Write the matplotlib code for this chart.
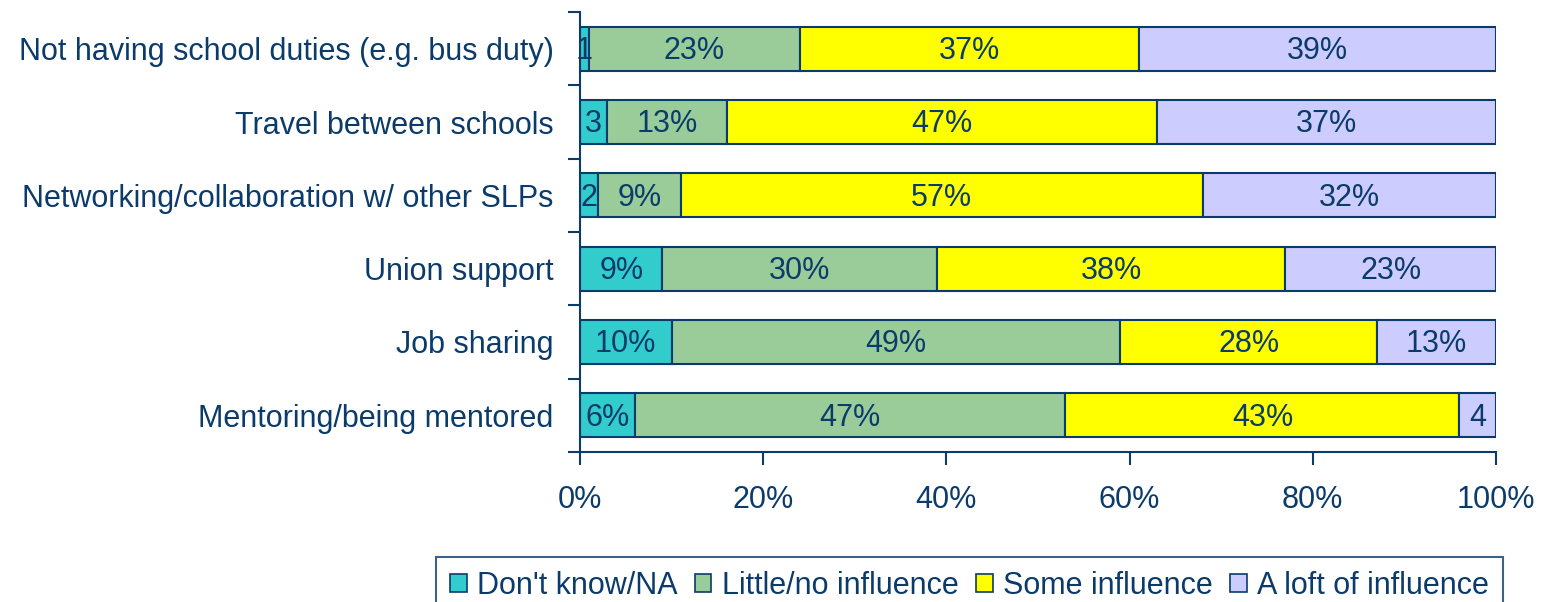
import matplotlib
matplotlib.use("Agg")
import matplotlib.pyplot as plt
from matplotlib.patches import Patch
import numpy as np

plt.rcParams['font.family'] = ['Liberation Sans', 'DejaVu Sans']

categories = [
    "Not having school duties (e.g. bus duty)",
    "Travel between schools",
    "Networking/collaboration w/ other SLPs",
    "Union support",
    "Job sharing",
    "Mentoring/being mentored",
]
series_names = ["Don't know/NA", "Little/no influence", "Some influence", "A loft of influence"]
dont_know = [1, 3, 2, 9, 10, 6]
little = [23, 13, 9, 30, 49, 47]
some = [37, 47, 57, 38, 28, 43]
a_lot = [39, 37, 32, 23, 13, 4]
xtick_labels = ["0%", "20%", "40%", "60%", "80%", "100%"]

colors = ["#33CCCC", "#99CC99", "#FFFF00", "#CCCCFF"]
navy = "#0B3B6B"
fs = 22

fig = plt.figure(figsize=(15.51, 6.02), dpi=100)
ax = fig.add_axes([580/1551, 1-452/602, 916/1551, 440/602])

series = [dont_know, little, some, a_lot]
n = len(categories)
ypos = np.arange(n)[::-1] + 0.5
left = np.zeros(n)
for vals, col, name in zip(series, colors, series_names):
    vals = np.array(vals, dtype=float)
    ax.barh(ypos, vals, left=left, height=0.6, color=col, edgecolor=navy,
            linewidth=1.5, label=name)
    for y, l, v in zip(ypos, left, vals):
        txt = f"{int(v)}%" if v >= 5 else f"{int(v)}"
        ax.text(l + v/2, y - 0.03, txt, ha='center', va='center', fontsize=fs,
                color=navy)
    left = left + vals

ax.set_xlim(0, 100)
ax.set_ylim(0, n)
ax.set_xticks(np.arange(0, 101, 20))
ax.set_xticklabels(xtick_labels, fontsize=fs, color=navy)
ax.set_yticks(np.arange(0, n + 1))
ax.set_yticklabels([])
ax.set_yticks(ypos, minor=True)
ax.set_yticklabels(categories, minor=True, fontsize=fs, color=navy)
ax.tick_params(axis='y', which='minor', length=0, pad=19)
ax.tick_params(axis='y', which='major', length=9, width=1.5, color=navy, direction='out')
ax.tick_params(axis='x', length=9, width=1.5, color=navy, direction='out', pad=15)
for s in ['top', 'right']:
    ax.spines[s].set_visible(False)
for s in ['left', 'bottom']:
    ax.spines[s].set_color(navy)
    ax.spines[s].set_linewidth(1.5)

handles = [Patch(facecolor=c, edgecolor=navy, linewidth=1.2) for c in colors]
leg = fig.legend(handles, series_names, loc='upper left',
                 bbox_to_anchor=(436/1551, 1-557/602), ncol=4, fontsize=fs,
                 frameon=True, fancybox=False, handlelength=0.55, handleheight=0.55,
                 handletextpad=0.35, columnspacing=0.55, borderpad=0.45,
                 borderaxespad=0, labelcolor=navy)
leg.get_frame().set_edgecolor(navy)
leg.get_frame().set_linewidth(1.5)

fig.savefig("out.png", dpi=100)
